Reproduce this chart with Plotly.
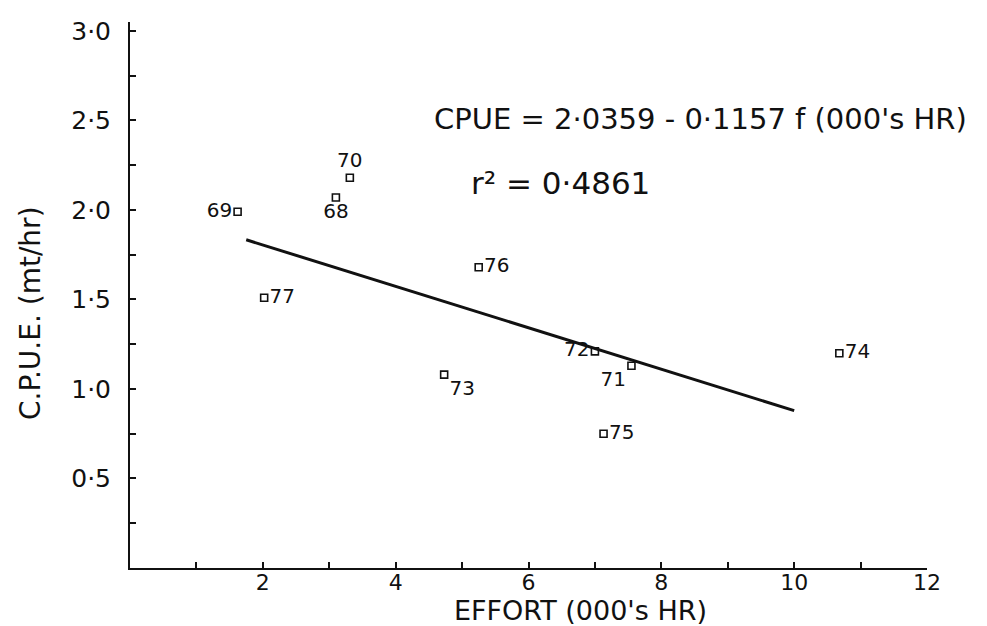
import plotly.graph_objects as go

# ---- data ----
years = ["69", "70", "68", "76", "77", "73", "72", "71", "75", "74"]
effort = [1.62, 3.31, 3.10, 5.25, 2.02, 4.73, 7.00, 7.55, 7.13, 10.68]   # 000's hr
cpue = [1.99, 2.18, 2.07, 1.68, 1.51, 1.08, 1.21, 1.13, 0.75, 1.20]      # mt/hr
label_pos = ["middle left", "top center", "bottom center", "middle right", "middle right",
             "bottom right", "middle left", "bottom left", "middle right", "middle right"]

intercept = 2.0359
slope = -0.1157
r2 = 0.4861
fit_x = [1.75, 10.0]
fit_y = [intercept + slope * x for x in fit_x]

x_tick_vals = [2, 4, 6, 8, 10, 12]
x_tick_text = ["2", "4", "6", "8", "10", "12"]
y_tick_vals = [0.5, 1.0, 1.5, 2.0, 2.5, 3.0]
y_tick_text = ["0·5", "1·0", "1·5", "2·0", "2·5", "3·0"]

FONT = "DejaVu Sans"
INK = "#111111"

L, R, T, B = 130, 60, 22, 58
W, H = 987, 626

fig = go.Figure()
fig.add_trace(go.Scatter(
    x=fit_x, y=fit_y, mode="lines",
    line=dict(color=INK, width=3), hoverinfo="skip", showlegend=False))
fig.add_trace(go.Scatter(
    x=effort, y=cpue, mode="markers+text", text=years, textposition=label_pos,
    textfont=dict(family=FONT, size=20, color=INK),
    marker=dict(symbol="square-open", size=7, color=INK, line=dict(width=1.6, color=INK)),
    cliponaxis=False, showlegend=False))

fig.update_layout(
    width=W, height=H,
    margin=dict(l=L, r=R, t=T, b=B),
    paper_bgcolor="white", plot_bgcolor="white",
    font=dict(family=FONT, color=INK),
    xaxis=dict(range=[0, 12], tickvals=x_tick_vals, ticktext=x_tick_text,
               ticks="inside", ticklen=6, tickwidth=1.5, tickcolor=INK,
               minor=dict(dtick=1, ticks="inside", ticklen=6, tickwidth=1.5, tickcolor=INK),
               showline=True, linecolor=INK, linewidth=2, showgrid=False, zeroline=False,
               ticklabelstandoff=-6,
               tickfont=dict(family=FONT, size=22, color=INK)),
    yaxis=dict(range=[0, 3.05], tickvals=y_tick_vals, ticktext=y_tick_text,
               ticks="inside", ticklen=6, tickwidth=1.5, tickcolor=INK,
               minor=dict(dtick=0.25, ticks="inside", ticklen=6, tickwidth=1.5, tickcolor=INK),
               showline=True, linecolor=INK, linewidth=2, showgrid=False, zeroline=False,
               ticklabelstandoff=12,
               tickfont=dict(family=FONT, size=25, color=INK)),
)

fig.add_annotation(x=4.54, y=2.51, xref="x", yref="y", xanchor="left", yanchor="middle",
                   text="CPUE = 2·0359 - 0·1157 f (000's HR)", showarrow=False,
                   font=dict(family=FONT, size=29, color=INK))
fig.add_annotation(x=5.11, y=2.15, xref="x", yref="y", xanchor="left", yanchor="middle",
                   text="r² = 0·4861", showarrow=False,
                   font=dict(family=FONT, size=31, color=INK))

pw = W - L - R
ph = H - T - B
def px_to_paper(px, py):
    return (px - L) / pw, (H - B - py) / ph

ytx, yty = px_to_paper(30, 313)
fig.add_annotation(x=ytx, y=yty, xref="paper", yref="paper", xanchor="center", yanchor="middle",
                   text="C.P.U.E. (mt/hr)", textangle=-90, showarrow=False,
                   font=dict(family=FONT, size=28, color=INK))
xtx, xty = px_to_paper(580, 610)
fig.add_annotation(x=xtx, y=xty, xref="paper", yref="paper", xanchor="center", yanchor="middle",
                   text="EFFORT (000's HR)", showarrow=False,
                   font=dict(family=FONT, size=27, color=INK))

fig.write_html("out.html")
